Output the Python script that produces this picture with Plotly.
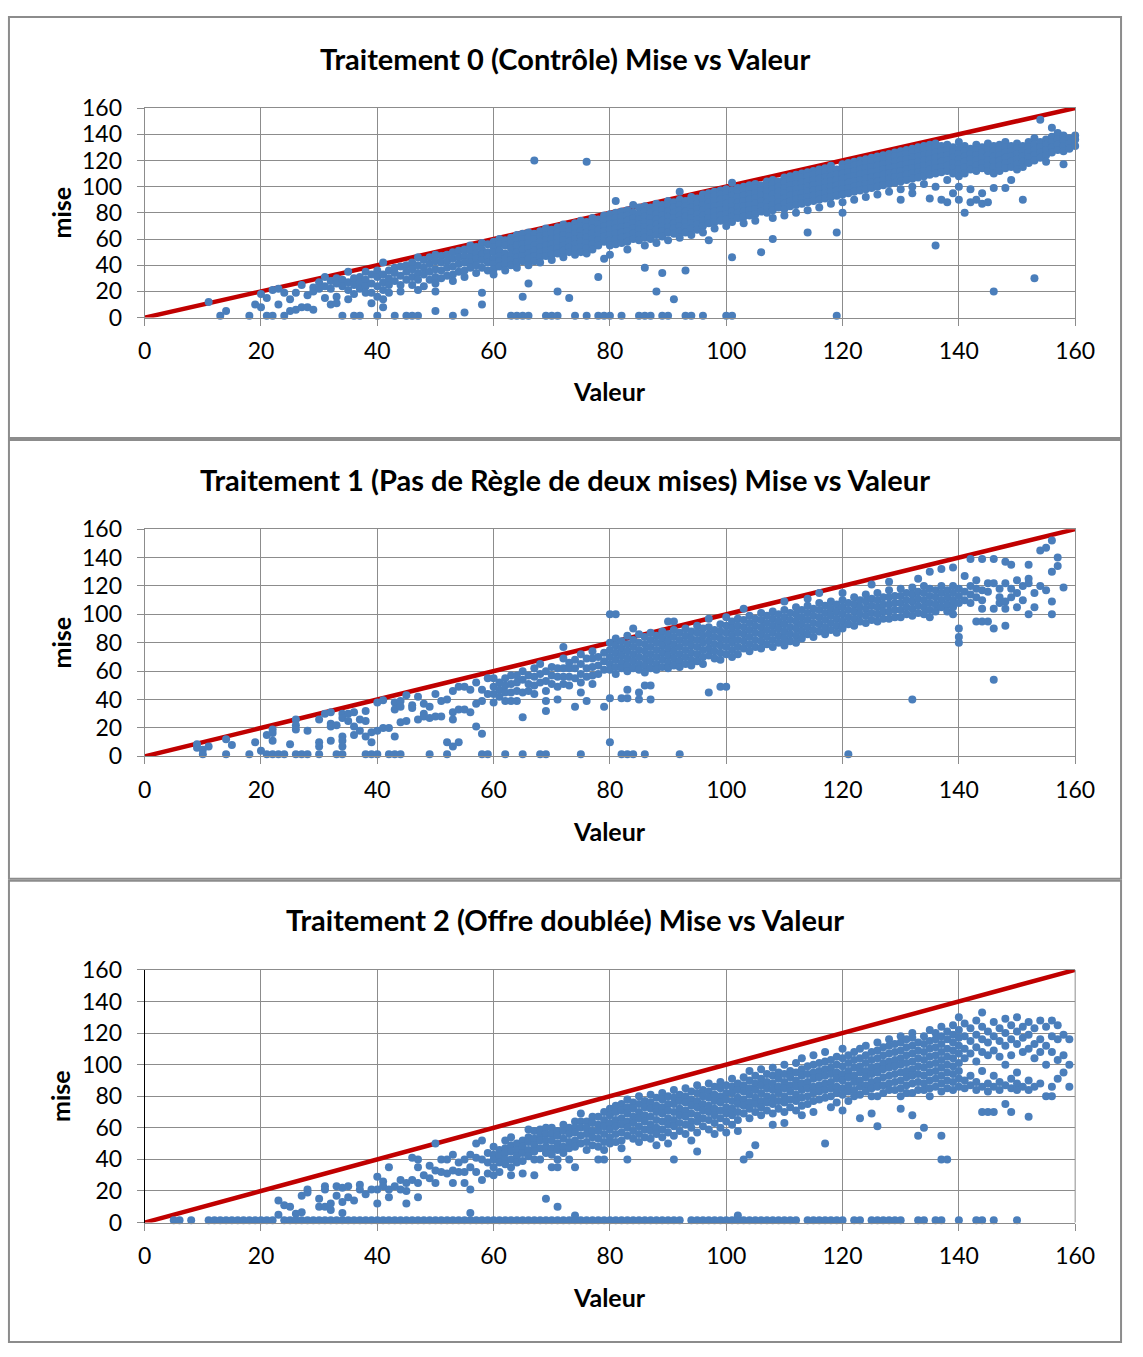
import plotly.graph_objects as go

# ---------------- data ----------------
titles = [
    "Traitement 0 (Contrôle) Mise vs Valeur",
    "Traitement 1 (Pas de Règle de deux mises) Mise vs Valeur",
    "Traitement 2 (Offre doublée) Mise vs Valeur",
]
x_title = "Valeur"
y_title = "mise"
tick_vals = [0, 20, 40, 60, 80, 100, 120, 140, 160]
diag_x = [0, 160]
diag_y = [0, 160]
zero_bid = 1.5

# Treatment 0: bids observed at each value (non-zero bids)
t0_bids = {
    11: [12], 14: [5], 19: [10], 20: [18, 8], 21: [15], 22: [21], 23: [22, 10], 24: [19],
    25: [14, 5], 26: [19, 6], 27: [25, 8], 28: [17, 8], 29: [23, 20, 6], 30: [27, 22],
    31: [31, 24, 15], 32: [28, 22, 10], 33: [30, 26, 16, 11], 34: [29, 24], 35: [35, 27, 21, 14],
    36: [30, 25, 18], 37: [31, 27, 22], 38: [35, 29, 24, 19], 39: [33, 26, 19, 11],
    40: [36, 31, 24, 16], 41: [42, 33, 27, 21, 14, 8], 42: [36, 30, 25, 19], 43: [38, 34, 28],
    44: [39, 32, 25, 20], 45: [40, 35, 29], 46: [42, 37, 31, 25], 47: [46, 40, 34, 29, 21],
    48: [44, 38, 33, 24], 49: [46, 41, 35, 29], 50: [48, 43, 37, 31, 26, 20, 5],
    51: [47, 42, 36, 30], 52: [48, 43, 38, 32], 53: [50, 45, 39, 33, 28], 54: [51, 46, 41, 35],
    55: [52, 47, 42, 36, 31, 4], 56: [55, 51, 46, 42, 38], 57: [54, 49, 45, 40, 34],
    58: [57, 52, 48, 44, 38, 19, 10], 59: [56, 50, 46, 42, 36], 60: [58, 54, 50, 45, 41, 37, 33],
    61: [60, 56, 51, 47, 43, 39], 62: [59, 55, 49, 45, 41, 36], 63: [61, 57, 53, 48, 44, 40],
    64: [63, 59, 55, 50, 46, 42, 38], 65: [64, 60, 56, 52, 47, 43, 16],
    66: [65, 61, 57, 53, 49, 45, 40, 26], 67: [120, 64, 60, 55, 51, 47, 43],
    68: [66, 62, 58, 54, 50, 46, 42], 69: [68, 63, 59, 55, 51, 47], 70: [67, 64, 60, 56, 52, 48, 44],
    71: [69, 65, 61, 57, 53, 49, 20], 72: [71, 67, 63, 59, 55, 51, 46],
    73: [70, 66, 62, 58, 54, 50, 15], 74: [72, 68, 64, 60, 56, 52, 48],
    75: [74, 70, 66, 62, 58, 54, 50], 76: [119, 73, 69, 65, 61, 57, 53, 49],
    77: [76, 72, 68, 64, 60, 56, 52], 78: [75, 71, 67, 63, 59, 55, 31],
    79: [78, 74, 70, 66, 62, 58, 45], 80: [79, 75, 71, 67, 63, 59, 55, 48],
    81: [89, 80, 76, 72, 68, 64, 60, 56], 82: [81, 77, 73, 69, 65, 61, 57],
    83: [82, 78, 74, 70, 66, 62, 58, 52], 84: [86, 80, 76, 72, 68, 64, 60],
    85: [84, 79, 75, 71, 67, 63, 59], 86: [85, 81, 77, 73, 69, 65, 61, 55, 38],
    87: [84, 80, 76, 72, 68, 64, 60], 88: [87, 83, 79, 75, 71, 67, 63, 57, 20],
    89: [86, 82, 78, 74, 70, 66, 62, 34], 90: [89, 85, 81, 77, 73, 69, 65, 59],
    91: [88, 84, 80, 76, 72, 68, 64, 14], 92: [96, 90, 86, 82, 78, 74, 70, 66, 61],
    93: [89, 85, 81, 77, 73, 69, 65, 36], 94: [92, 88, 84, 80, 76, 72, 68, 63],
    95: [91, 87, 83, 79, 75, 71, 67], 96: [94, 90, 86, 82, 78, 74, 70, 65],
    97: [95, 92, 88, 84, 80, 76, 72, 59], 98: [96, 93, 89, 85, 81, 77, 73, 68],
    99: [97, 94, 90, 86, 82, 78, 74], 100: [98, 95, 91, 87, 83, 79, 75, 70],
    101: [103, 97, 93, 89, 85, 81, 77, 73, 46], 102: [99, 96, 92, 88, 84, 80, 76],
    103: [100, 97, 93, 89, 85, 81, 77, 72], 104: [101, 98, 94, 90, 86, 82, 78],
    105: [102, 99, 95, 91, 87, 83, 79, 74], 106: [101, 97, 93, 89, 85, 81, 50],
    107: [104, 100, 96, 92, 88, 84, 80], 108: [105, 102, 98, 94, 90, 86, 82, 76, 60],
    109: [104, 100, 96, 92, 88, 84], 110: [107, 103, 99, 95, 91, 87, 83, 78],
    111: [108, 105, 101, 97, 93, 89, 85], 112: [109, 106, 102, 98, 94, 90, 86, 80],
    113: [110, 107, 103, 99, 95, 91, 87], 114: [111, 108, 104, 100, 96, 92, 88, 82, 65],
    115: [112, 109, 105, 101, 97, 93, 89], 116: [113, 110, 106, 102, 98, 94, 90, 84],
    117: [114, 111, 107, 103, 99, 95, 91], 118: [116, 112, 108, 104, 100, 96, 92, 87],
    119: [113, 109, 105, 101, 97, 93, 65], 120: [117, 114, 110, 106, 102, 98, 94, 88, 80],
    121: [118, 115, 111, 107, 103, 99, 95], 122: [119, 116, 112, 108, 104, 100, 96, 90],
    123: [120, 117, 113, 109, 105, 101, 97], 124: [121, 118, 114, 110, 106, 102, 98, 92],
    125: [122, 119, 115, 111, 107, 103, 99], 126: [123, 120, 116, 112, 108, 104, 100, 94],
    127: [124, 121, 117, 113, 109, 105, 101], 128: [125, 122, 118, 114, 110, 106, 102, 96],
    129: [126, 123, 119, 115, 111, 107, 103], 130: [127, 124, 120, 116, 112, 108, 104, 98, 90],
    131: [128, 125, 121, 117, 113, 109, 105], 132: [129, 126, 122, 118, 114, 110, 106, 100, 95],
    133: [130, 127, 123, 119, 115, 111, 107], 134: [131, 128, 124, 120, 116, 112, 108, 102],
    135: [132, 129, 125, 121, 117, 113, 109, 91], 136: [133, 130, 126, 122, 118, 114, 110, 100, 55],
    137: [131, 127, 123, 119, 115, 111, 90], 138: [132, 128, 124, 120, 116, 112, 105, 88],
    139: [130, 126, 122, 118, 114, 110, 95], 140: [134, 129, 125, 121, 117, 113, 108, 100, 90],
    141: [131, 127, 123, 119, 115, 110, 80], 142: [129, 125, 121, 117, 113, 98, 88],
    143: [132, 128, 124, 120, 116, 112, 90], 144: [130, 126, 122, 118, 114, 95, 87],
    145: [133, 128, 124, 120, 116, 112, 88], 146: [131, 127, 123, 119, 115, 110, 99, 20],
    147: [132, 128, 124, 120, 116, 112], 148: [134, 130, 126, 122, 118, 114, 99],
    149: [131, 127, 123, 119, 115, 105], 150: [133, 129, 125, 121, 117, 113],
    151: [131, 127, 123, 119, 115, 90], 152: [134, 130, 126, 122, 118],
    153: [137, 132, 128, 124, 120, 30], 154: [151, 134, 130, 126, 122],
    155: [136, 132, 128, 124, 119], 156: [145, 138, 134, 130, 126], 157: [141, 136, 132, 128],
    158: [139, 135, 131, 127, 117], 159: [137, 133, 129], 160: [139, 136, 131],
}
t0_zero_vals = [13, 18, 21, 22, 24, 34, 36, 37, 40, 43, 45, 46, 47, 53, 63, 64, 65, 66, 69, 70,
                71, 74, 76, 78, 79, 80, 82, 85, 86, 87, 89, 90, 93, 94, 96, 100, 101, 119]

# Treatment 1
t1_bids = {
    9: [8.5, 6], 10: [4.6], 11: [7], 14: [12], 15: [8], 19: [10], 20: [4], 21: [15],
    22: [19, 16.5, 11], 25: [8.5], 26: [26, 22, 19], 28: [18], 30: [26, 10, 7], 31: [30],
    32: [31, 23, 21, 11], 33: [22], 34: [30, 27, 14, 11, 7], 35: [30, 25], 36: [31, 21, 15],
    37: [26, 18], 38: [32, 25, 14], 39: [17, 10], 40: [38, 18], 41: [39.5, 20], 42: [20],
    43: [38, 33, 14], 44: [39, 35, 24], 45: [43, 25], 46: [36, 34], 47: [42, 26],
    48: [37, 30, 28], 49: [35, 27], 50: [44, 28], 51: [39, 28], 52: [40, 10], 53: [46, 31, 26, 7],
    54: [49, 33, 10], 55: [49, 33], 56: [47, 31], 57: [52, 37, 21], 58: [47, 39, 16], 59: [55, 44],
    60: [55, 49, 44, 38], 61: [52, 47, 42], 62: [55, 50, 45, 39], 63: [57, 51, 45, 39],
    64: [57, 52, 46, 39], 65: [60, 54, 45, 27.5], 66: [57, 51, 46], 67: [62, 56, 50, 44],
    68: [65, 58, 52], 69: [60, 53, 46, 39, 32], 70: [63, 57, 51], 71: [62, 56, 49, 40],
    72: [77, 69, 62, 56, 51], 73: [66, 62, 56, 50], 74: [68, 62, 55, 35], 75: [72, 65, 58, 52, 45],
    76: [69, 62, 56, 39], 77: [74, 69, 63, 57, 51], 78: [70, 64, 58], 79: [73, 67, 61, 35],
    80: [100, 80, 75, 70, 65, 61, 41, 10], 81: [100, 83, 78, 73, 68, 63, 58],
    82: [81, 76, 71, 66, 62, 41], 83: [85, 79, 74, 69, 64, 60, 47, 41],
    84: [90, 82, 77, 72, 67, 62], 85: [86, 80, 75, 70, 65, 61, 45, 40],
    86: [84, 79, 74, 69, 64, 59, 50], 87: [87, 82, 77, 72, 67, 62, 50, 40],
    88: [85, 80, 75, 70, 65, 61], 89: [88, 83, 78, 73, 68, 63], 90: [95, 86, 81, 76, 71, 66, 62],
    91: [95, 89, 84, 79, 74, 69, 64], 92: [87, 82, 77, 72, 67, 63], 93: [90, 85, 80, 75, 70, 65],
    94: [88, 83, 78, 73, 68, 64], 95: [92, 87, 82, 77, 72, 67], 96: [90, 85, 80, 75, 70, 65],
    97: [97, 91, 86, 81, 76, 71, 45], 98: [89, 84, 79, 74, 69], 99: [93, 88, 83, 78, 73, 68, 49],
    100: [98, 92, 87, 82, 77, 72, 49], 101: [95, 90, 85, 80, 75, 70],
    102: [97, 92, 87, 82, 77, 72], 103: [104, 96, 91, 86, 81, 76], 104: [99, 94, 89, 84, 79, 74],
    105: [97, 92, 87, 82, 77], 106: [101, 96, 91, 86, 81, 76], 107: [99, 94, 89, 84, 79],
    108: [102, 97, 92, 87, 82, 77], 109: [100, 95, 90, 85, 80],
    110: [109, 103, 98, 93, 88, 83, 78], 111: [101, 96, 91, 86, 81],
    112: [105, 100, 95, 90, 85, 80], 113: [103, 98, 93, 88, 83], 114: [111, 106, 101, 96, 91, 86],
    115: [104, 99, 94, 89, 84], 116: [115, 108, 103, 98, 93, 88], 117: [106, 101, 96, 91, 86],
    118: [109, 104, 99, 94, 89], 119: [107, 102, 97, 92, 87], 120: [115, 110, 105, 100, 95, 90],
    121: [108, 103, 98, 93], 122: [112, 107, 102, 97, 92], 123: [110, 105, 100, 95],
    124: [114, 109, 104, 99, 94], 125: [121, 111, 106, 101, 96], 126: [115, 110, 105, 100, 95],
    127: [112, 107, 102, 97], 128: [123, 117, 112, 107, 102, 97], 129: [113, 108, 103, 98],
    130: [118, 113, 108, 103, 98], 131: [115, 110, 105, 100], 132: [119, 114, 109, 104, 99, 40],
    133: [125, 116, 111, 106, 101], 134: [120, 115, 110, 105, 100],
    135: [130, 118, 113, 108, 103, 98], 136: [117, 112, 107, 102], 137: [132, 120, 115, 110, 105],
    138: [117, 112, 107, 102], 139: [133, 120, 115, 110, 105, 100],
    140: [118, 113, 108, 90, 84, 80], 141: [127, 116, 110], 142: [139, 120, 114, 108],
    143: [124, 118, 112, 95], 144: [139, 117, 110, 104, 95], 145: [122, 116, 95],
    146: [139, 122, 104, 90, 54], 147: [118, 112, 108], 148: [137, 122, 109, 104, 92],
    149: [135, 118, 112], 150: [124, 115, 105], 151: [120, 110], 152: [135, 125, 122, 100],
    153: [115, 105], 154: [145, 120], 155: [147, 117], 156: [152, 130, 109, 100],
    157: [140, 134], 158: [119],
}
t1_zero_vals = [10, 14, 18, 21, 22, 23, 24, 26, 27, 28, 30, 33, 34, 38, 39, 40, 42, 43, 44, 49,
                52, 58, 59, 62, 65, 68, 69, 75, 82, 83, 84, 86, 92, 121]

# Treatment 2
t2_bids = {
    23: [14, 5], 24: [11], 25: [10], 26: [5.5], 27: [17, 6.6], 28: [21, 19], 30: [15, 10],
    31: [23, 21, 10], 32: [12, 8], 33: [23, 17], 34: [22, 13, 6], 35: [23, 16], 36: [14],
    37: [24, 21], 38: [18], 39: [21], 40: [29, 21, 12], 41: [26, 23], 42: [35, 21, 16], 43: [23],
    44: [27, 21], 45: [25, 20, 12], 46: [41, 27], 47: [40, 35, 25, 16], 48: [30], 49: [36, 28],
    50: [50, 33, 25], 51: [40, 32], 52: [40, 31], 53: [43, 33, 25], 54: [38, 32],
    55: [40, 32, 25], 56: [43, 35, 21, 6], 57: [50, 41, 32], 58: [52, 40, 27], 59: [44, 38, 31],
    60: [48, 43, 40, 35, 30], 61: [46, 42, 38, 32], 62: [52, 47, 44, 40, 37],
    63: [54, 49, 45, 40, 35, 30], 64: [50, 46, 42, 38], 65: [52, 48, 44, 39, 31],
    66: [59, 54, 51, 46, 42], 67: [58, 53, 49, 45, 40, 30], 68: [59, 55, 52, 47, 40],
    69: [60, 56, 52, 48, 44, 15], 70: [60, 56, 52, 47, 43, 35], 71: [58, 55, 50, 46, 40, 35, 10],
    72: [62, 58, 53, 48, 44], 73: [60, 56, 51, 47, 40], 74: [64, 60, 57, 52, 48, 35, 4.5],
    75: [69, 64, 60, 55, 50], 76: [64, 60, 56, 51, 46], 77: [67, 63, 58, 54, 49],
    78: [67, 62, 58, 53, 48, 40], 79: [70, 65, 61, 56, 51, 46, 40], 80: [72, 68, 63, 59, 54, 50],
    81: [74, 70, 65, 61, 56, 51], 82: [75, 71, 66, 62, 57, 52, 47],
    83: [78, 73, 69, 64, 60, 55, 40], 84: [76, 72, 67, 63, 58, 53],
    85: [80, 75, 70, 66, 61, 56, 51], 86: [77, 73, 68, 64, 59, 54],
    87: [81, 76, 72, 67, 62, 58, 53], 88: [79, 74, 70, 65, 60, 56, 49],
    89: [82, 78, 73, 69, 64, 59, 54], 90: [80, 75, 71, 66, 62, 57, 50],
    91: [84, 79, 75, 70, 65, 61, 55, 40], 92: [81, 77, 72, 68, 63, 58],
    93: [85, 80, 76, 71, 67, 62, 56], 94: [83, 78, 74, 69, 64, 60, 52],
    95: [87, 82, 77, 73, 68, 64, 57, 45], 96: [84, 80, 75, 71, 66, 61],
    97: [88, 83, 79, 74, 70, 65, 59], 98: [86, 81, 77, 72, 68, 63, 56],
    99: [89, 85, 80, 76, 71, 66, 60], 100: [87, 82, 78, 73, 69, 64, 57],
    101: [91, 86, 82, 77, 72, 68, 62], 102: [88, 84, 79, 75, 70, 65, 58, 4.5],
    103: [92, 87, 83, 78, 74, 69, 40], 104: [96, 90, 85, 81, 76, 72, 66, 43],
    105: [93, 88, 84, 79, 75, 70, 49], 106: [97, 91, 87, 82, 77, 73, 68],
    107: [94, 89, 85, 80, 76, 71], 108: [98, 93, 88, 84, 79, 75, 69, 62],
    109: [95, 91, 86, 82, 77, 72], 110: [100, 94, 89, 85, 80, 76, 70, 63],
    111: [96, 92, 87, 83, 78, 73], 112: [101, 95, 90, 86, 81, 77, 71],
    113: [104, 97, 93, 88, 84, 79, 74, 68], 114: [99, 94, 89, 85, 80, 75],
    115: [106, 100, 95, 91, 86, 82, 77, 70], 116: [101, 96, 92, 87, 83, 78],
    117: [108, 102, 97, 93, 88, 84, 79, 50], 118: [103, 98, 94, 89, 85, 80, 73],
    119: [105, 100, 95, 91, 86, 82, 76], 120: [110, 104, 99, 94, 90, 85, 81, 71],
    121: [106, 101, 96, 92, 87, 83, 77], 122: [108, 103, 98, 93, 89, 84, 80],
    123: [110, 104, 99, 95, 90, 86, 81, 66], 124: [112, 106, 101, 96, 92, 87, 83],
    125: [108, 103, 98, 94, 89, 85, 80, 69], 126: [114, 109, 104, 99, 95, 90, 86, 80, 61],
    127: [111, 106, 101, 97, 92, 87, 82], 128: [116, 112, 107, 102, 98, 93, 88, 84],
    129: [113, 108, 103, 99, 94, 89, 84], 130: [118, 114, 109, 104, 100, 95, 90, 85, 80, 72],
    131: [116, 111, 106, 101, 96, 92, 87, 82], 132: [120, 117, 112, 107, 102, 97, 93, 88, 82, 68],
    133: [114, 109, 104, 99, 94, 89, 84, 55], 134: [118, 113, 108, 103, 98, 93, 88, 84, 60],
    135: [122, 115, 110, 105, 100, 95, 90, 85, 80], 136: [120, 116, 111, 106, 101, 96, 91, 86],
    137: [124, 118, 113, 108, 103, 98, 93, 88, 83, 55, 40],
    138: [121, 116, 110, 105, 100, 95, 90, 85, 40], 139: [125, 119, 114, 109, 104, 99, 94, 89, 84],
    140: [130, 122, 117, 112, 107, 101, 96, 91, 86], 141: [126, 118, 110, 104, 90, 85],
    142: [123, 115, 107, 93, 87], 143: [128, 119, 111, 102, 89, 84],
    144: [133, 124, 116, 108, 96, 86, 70], 145: [121, 114, 106, 88, 83, 70],
    146: [127, 118, 109, 93, 86, 70], 147: [123, 115, 105, 89, 84],
    148: [129, 120, 112, 100, 87, 75], 149: [125, 116, 106, 91, 85, 70],
    150: [130, 121, 113, 95, 88, 84], 151: [124, 117, 108, 86], 152: [127, 119, 110, 90, 84, 67],
    153: [123, 113, 104, 86], 154: [128, 116, 108, 88], 155: [124, 112, 100, 80],
    156: [128, 118, 108, 86, 80], 157: [125, 116, 103, 91], 158: [119, 106, 95],
    159: [116, 100, 86],
}
t2_zero_vals = [5, 6, 8, 11, 12, 13, 14, 15, 16, 17, 18, 19, 20, 21, 22,
                24, 25, 26, 27, 28, 29, 30, 31, 32, 33, 34, 35, 36, 37, 38, 39, 40, 41, 42, 43,
                44, 45, 46, 47, 48, 49, 50, 51, 52, 53, 54, 55, 56, 57, 58, 59, 60, 61, 62, 63,
                64, 65, 66, 67, 68, 69, 70, 71, 72, 73, 74, 75, 76, 77, 78, 79, 80, 81, 82, 83,
                84, 85, 86, 87, 88, 89, 90, 91, 92, 94, 95, 96, 97, 98, 99, 100, 101, 102, 103,
                104, 105, 106, 107, 108, 109, 110, 111, 112, 114, 115, 116, 117, 118, 119, 120,
                122, 123, 125, 126, 127, 128, 129, 130, 133, 134, 136, 137, 140, 143, 144, 146, 150]

panels = [(t0_bids, t0_zero_vals), (t1_bids, t1_zero_vals), (t2_bids, t2_zero_vals)]

# ---------------- layout constants (pixels of the 1143x1357 page) ----------------
W, H = 1143, 1357
PLOT_L, PLOT_R = 141, 1094
plot_tb = [(95, 309), (525, 757), (975, 1233)]
panel_boxes = [(2, 432), (434, 882), (884, 1355)]
title_y = [44, 474, 924]
xtitle_y = [384, 833, 1309]

BLUE = "#4A7EBB"
RED = "#C00000"
GRID = "#8C8C8C"
FONT = "Lato"


def px(xp):
    return xp / W


def py(yp):
    return 1 - yp / H


fig = go.Figure()
for i, (bids, zeros) in enumerate(panels):
    ax = "" if i == 0 else str(i + 1)
    xs, ys = [], []
    for v, blist in bids.items():
        for b in blist:
            xs.append(v)
            ys.append(b)
    for v in zeros:
        xs.append(v)
        ys.append(zero_bid)
    fig.add_trace(go.Scatter(x=diag_x, y=diag_y, mode="lines",
                             line=dict(color=RED, width=4.5), xaxis="x" + ax, yaxis="y" + ax,
                             showlegend=False, hoverinfo="skip", cliponaxis=False))
    fig.add_trace(go.Scatter(x=xs, y=ys, mode="markers",
                             marker=dict(color=BLUE, size=8, line=dict(width=0)),
                             xaxis="x" + ax, yaxis="y" + ax, showlegend=False, cliponaxis=False))

layout = dict(autosize=True, margin=dict(l=0, r=0, t=0, b=0, pad=0),
              paper_bgcolor="white", plot_bgcolor="white", showlegend=False)
annotations = []
shapes = []
for i in range(3):
    ax = "" if i == 0 else str(i + 1)
    top, bot = plot_tb[i]
    layout["xaxis" + ax] = dict(
        domain=[px(PLOT_L), px(PLOT_R)], range=[0, 160], tickvals=tick_vals,
        showgrid=True, gridcolor=GRID, gridwidth=1, zeroline=False,
        showline=True, linecolor=GRID, linewidth=1, mirror=True,
        ticks="outside", ticklen=7, tickcolor=GRID, tickwidth=1,
        tickfont=dict(family=FONT, size=23, color="#000000"),
        anchor="y" + ax, fixedrange=True, ticklabelstandoff=6)
    layout["yaxis" + ax] = dict(
        domain=[py(bot), py(top)], range=[0, 160], tickvals=tick_vals,
        showgrid=True, gridcolor=GRID, gridwidth=1, zeroline=False,
        showline=True, linecolor=("#000000" if i == 2 else GRID), linewidth=1,
        mirror=(i != 2),
        ticks="outside", ticklen=7, tickcolor=GRID, tickwidth=1,
        tickfont=dict(family=FONT, size=23, color="#000000"),
        anchor="x" + ax, fixedrange=True, ticklabelstandoff=10)
    annotations.append(dict(text="<b>" + titles[i] + "</b>", x=px(572), y=py(title_y[i]),
                            xref="paper", yref="paper", showarrow=False,
                            xanchor="center", yanchor="middle",
                            font=dict(family=FONT, size=29, color="#000000")))
    annotations.append(dict(text="<b>" + x_title + "</b>", x=px((PLOT_L + PLOT_R) / 2),
                            y=py(xtitle_y[i]), xref="paper", yref="paper", showarrow=False,
                            xanchor="center", yanchor="middle",
                            font=dict(family=FONT, size=25, color="#000000")))
    annotations.append(dict(text="<b>" + y_title + "</b>", x=px(55), y=py((top + bot) / 2),
                            xref="paper", yref="paper", showarrow=False, textangle=-90,
                            xanchor="center", yanchor="middle",
                            font=dict(family=FONT, size=25, color="#000000")))
    b0, b1 = panel_boxes[i]
    shapes.append(dict(type="rect", xref="paper", yref="paper", x0=px(2), x1=px(1141),
                       y0=py(b1), y1=py(b0), line=dict(color="#8C8C8C", width=2)))
# right edge of third plot (no mirrored axis there)
shapes.append(dict(type="line", xref="paper", yref="paper", x0=px(PLOT_R), x1=px(PLOT_R),
                   y0=py(plot_tb[2][1]), y1=py(plot_tb[2][0]), line=dict(color=GRID, width=1)))
layout["annotations"] = annotations
layout["shapes"] = shapes
fig.update_layout(**layout)

fill_page = """
var gd = document.getElementById('{plot_id}');
var de = document.documentElement, bd = document.body;
de.style.margin = '0'; de.style.padding = '0'; de.style.height = '100%'; de.style.overflow = 'hidden';
bd.style.margin = '0'; bd.style.padding = '0'; bd.style.height = '100%'; bd.style.overflow = 'hidden';
gd.parentElement.style.height = '100%'; gd.parentElement.style.width = '100%';
gd.style.height = '100%'; gd.style.width = '100%';
Plotly.Plots.resize(gd);
"""
fig.write_html("out.html", config={"displayModeBar": False},
               default_width="100%", default_height="100%", post_script=fill_page)
